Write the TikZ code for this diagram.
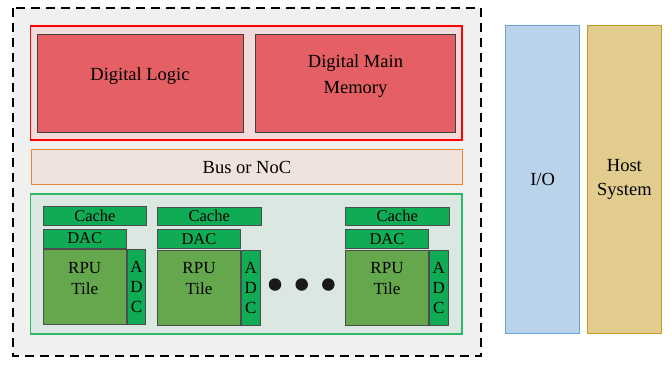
\documentclass[tikz,border=0pt]{standalone}
\usepackage{fontspec}
\setmainfont{Liberation Serif}
\begin{document}
\begin{tikzpicture}[x=1pt,y=-1pt,
  box/.style={draw, line width=1pt, inner sep=0pt, align=center},
  outline/.style={box, line width=1.3pt},
  bigtext/.style={font=\fontsize{18.5}{26}\selectfont},
  logicbox/.style={box, draw=black!75, fill=logicred},
  boxlabel/.style={inner sep=0pt, align=center, bigtext},
  greenpart/.style={box, draw=black!70, fill=tilegreen, font=\fontsize{16.5}{17}\selectfont},
  rpubox/.style={box, draw=black!70, fill=rpugreen},
  rpulabel/.style={inner sep=0pt, align=center, font=\fontsize{17}{21}\selectfont},
  dot/.style={circle, fill=black!90, inner sep=0pt, minimum size=12.5pt}]
\definecolor{logicred}{HTML}{E46064}
\definecolor{redframe}{HTML}{F2DCDB}
\definecolor{tilegreen}{HTML}{10AC55}
\definecolor{rpugreen}{HTML}{65A74C}
\definecolor{arrayfill}{HTML}{DBE8E1}
\definecolor{arrayedge}{HTML}{2CB866}
\definecolor{busfill}{HTML}{F0E3DE}
\definecolor{busedge}{HTML}{E8873C}
\definecolor{iofill}{HTML}{B8D3EA}
\definecolor{ioedge}{HTML}{6DA3D9}
\definecolor{hostfill}{HTML}{E2CD8F}
\definecolor{hostedge}{HTML}{C29D22}
\useasboundingbox (0,0) rectangle (672,365);

% chip outline
\draw[line width=2.4pt, dash pattern=on 9pt off 6pt, fill=black!6] (13,8) rectangle (481,356);

% digital section
\draw[line width=1.3pt, draw=red, fill=redframe] (30.5,26) rectangle (462,140);
\node[logicbox, minimum width=206pt, minimum height=98pt, anchor=north west] (logic) at (36.5,34) {};
\node[boxlabel] (logictext) at ([yshift=7pt]logic.center) {Digital Logic};
\node[logicbox, minimum width=200pt, minimum height=98pt, anchor=north west] (mem) at (255,34) {};
\node[boxlabel] (memtext) at ([yshift=7pt]mem.center) {Digital Main\\Memory};

% interconnect
\node[outline, draw=busedge, fill=busfill, minimum width=431.5pt, minimum height=35pt, anchor=north west,
      bigtext] (bus) at (30.5,149) {Bus or NoC};

% analog array
\draw[line width=1.3pt, draw=arrayedge, fill=arrayfill] (30.5,194) rectangle (462,334);

\foreach \n/\x/\y in {1/42.7/206, 2/157/206.5, 3/345/206.5} {
  \node[greenpart, minimum width=103.5pt, minimum height=18.5pt, anchor=north west] (cache\n) at (\x,\y) {Cache};
  \node[greenpart, minimum width=83pt, minimum height=19pt, anchor=north west] (dac\n) at (\x,\y+22.5) {DAC};
  \node[rpubox, minimum width=83pt, minimum height=75pt, anchor=north west] (rpu\n) at (\x,\y+43.2) {};
  \node[rpulabel] (rputext\n) at ([yshift=-29pt]rpu\n.north) {RPU\\Tile};
  \node[greenpart, minimum width=18.5pt, minimum height=75pt, anchor=north east,
        font=\fontsize{17}{20}\selectfont] (adc\n) at (\x+103.5,\y+43.2) {A\\D\\C};
}
\node[dot] (d1) at (275,284.5) {};
\node[dot] (d2) at (301.7,284.5) {};
\node[dot] (d3) at (328.3,284.5) {};

% off-chip blocks
\node[outline, draw=ioedge, fill=iofill, minimum width=74pt, minimum height=307.5pt, anchor=north west,
      bigtext] (io) at (505,25) {I/O};
\node[outline, draw=hostedge, fill=hostfill, minimum width=73.5pt, minimum height=307.5pt, anchor=north west,
      font=\fontsize{18.5}{24}\selectfont] (host) at (587,25) {Host\\System};
\end{tikzpicture}
\end{document}
